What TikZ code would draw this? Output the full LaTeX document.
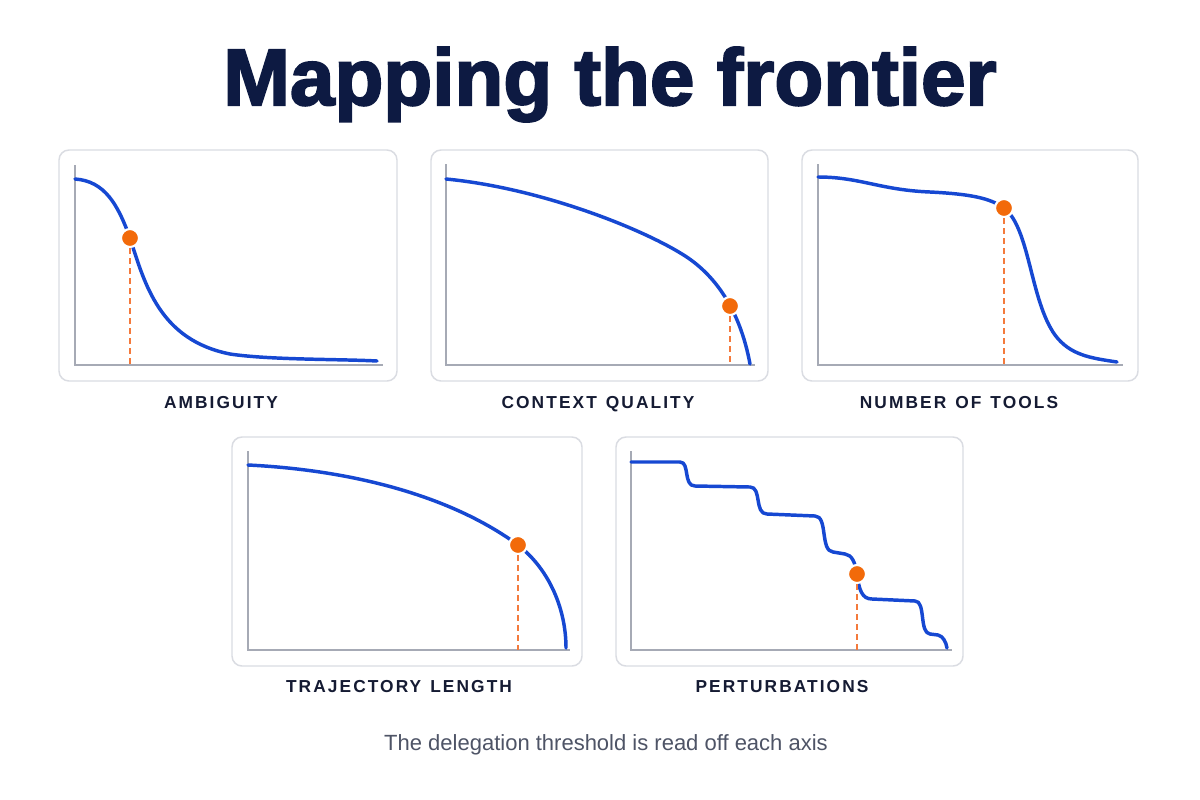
\documentclass[tikz,border=0pt]{standalone}
\usepackage{fontspec}
\setmainfont{Liberation Sans}
\newfontfamily\lblfont{Liberation Sans}[LetterSpace=12,WordSpace=1.3]
\definecolor{titlenavy}{HTML}{0D1A42}
\definecolor{labelnavy}{HTML}{151B33}
\definecolor{capgray}{HTML}{4E5466}
\definecolor{panelgray}{HTML}{DADCE2}
\definecolor{axisgray}{HTML}{A6AAB5}
\definecolor{curveblue}{HTML}{1648D2}
\definecolor{dotorange}{HTML}{F26A0A}
\definecolor{dashorange}{HTML}{F47A3C}
\begin{document}
\begin{tikzpicture}[x=0.75pt,y=-0.75pt,
  panel/.style={draw=panelgray, line width=1.1pt, rounded corners=7.5pt, fill=white},
  axisline/.style={draw=axisgray, line width=1.1pt},
  curve/.style={draw=curveblue, line width=2.6pt, line cap=round, line join=round},
  dot/.style={circle, fill=dotorange, draw=white, line width=1.6pt, inner sep=0pt, minimum size=13.5pt},
  thresh/.style={draw=dashorange, line width=1.2pt, dash pattern=on 4.5pt off 3pt},
  lbl/.style={anchor=base, text=labelnavy, font=\fontsize{13pt}{15pt}\lblfont\bfseries},
]
\useasboundingbox (0,0) rectangle (1200,800);
\fill[white] (0,0) rectangle (1200,800);

% title
\node[anchor=base, text=titlenavy, font=\fontsize{60pt}{66pt}\selectfont\bfseries\addfontfeature{FakeBold=2.5}] (title) at (610,105) {Mapping the frontier};

% ---------- panel 1: ambiguity
\draw[panel] (59,150) rectangle (397,381);
\draw[axisline] (75,165) -- (75,365) -- (383,365);
\draw[curve] (75,179) .. controls (105,181) and (118,205) .. (130,238)
  .. controls (145,285) and (160,340) .. (230,354)
  .. controls (270,360) and (340,359) .. (377,361);
\coordinate (b1) at (130,365);
\node[dot] (d1) at (130,238) {};
\draw[thresh] (d1) -- (b1);
\node[lbl] (l1) at (221,408) {AMBIGUITY};

% ---------- panel 2: context quality
\draw[panel] (431,150) rectangle (768,381);
\draw[axisline] (446,164) -- (446,365) -- (755,365);
\draw[curve] (446,179) .. controls (540,188) and (640,228) .. (682,254)
  .. controls (715,274) and (740,310) .. (750,364);
\coordinate (b2) at (730,365);
\node[dot] (d2) at (730,306) {};
\draw[thresh] (d2) -- (b2);
\node[lbl] (l2) at (598,408) {CONTEXT QUALITY};

% ---------- panel 3: number of tools
\draw[panel] (802,150) rectangle (1138,381);
\draw[axisline] (818,164) -- (818,365) -- (1123,365);
\draw[curve] (818,177) .. controls (860,177) and (880,190) .. (930,192)
  .. controls (970,194) and (990,198) .. (1004,208)
  .. controls (1030,228) and (1030,300) .. (1055,335)
  .. controls (1070,355) and (1090,358) .. (1117,362);
\coordinate (b3) at (1004,365);
\node[dot] (d3) at (1004,208) {};
\draw[thresh] (d3) -- (b3);
\node[lbl] (l3) at (959,408) {NUMBER OF TOOLS};

% ---------- panel 4: trajectory length
\draw[panel] (232,437) rectangle (582,666);
\draw[axisline] (248,451) -- (248,650) -- (570,650);
\draw[curve] (248,465) .. controls (350,470) and (450,495) .. (518,545)
  .. controls (550,570) and (566,610) .. (566,648);
\coordinate (b4) at (518,650);
\node[dot] (d4) at (518,545) {};
\draw[thresh] (d4) -- (b4);
\node[lbl] (l4) at (399,692) {TRAJECTORY LENGTH};

% ---------- panel 5: perturbations
\draw[panel] (616,437) rectangle (963,666);
\draw[axisline] (631,451) -- (631,650) -- (952,650);
\draw[curve] (631,462) -- (680,462) .. controls (690,462) and (683,486) .. (695,486)
  -- (750,487) .. controls (762,487) and (754,514) .. (767,514)
  -- (815,516) .. controls (828,516) and (820,551) .. (833,552)
  -- (845,554) .. controls (852,555) and (855,562) .. (857,574)
  .. controls (859,590) and (862,599) .. (872,599)
  -- (915,601) .. controls (926,601) and (919,633) .. (930,634)
  -- (938,635) .. controls (943,636) and (946,642) .. (947,648);
\coordinate (b5) at (857,650);
\node[dot] (d5) at (857,574) {};
\draw[thresh] (d5) -- (b5);
\node[lbl] (l5) at (782,692) {PERTURBATIONS};

% caption
\node[anchor=base, text=capgray, font=\fontsize{16.5pt}{19pt}\selectfont] (cap) at (606,750) {The delegation threshold is read off each axis};
\end{tikzpicture}
\end{document}
